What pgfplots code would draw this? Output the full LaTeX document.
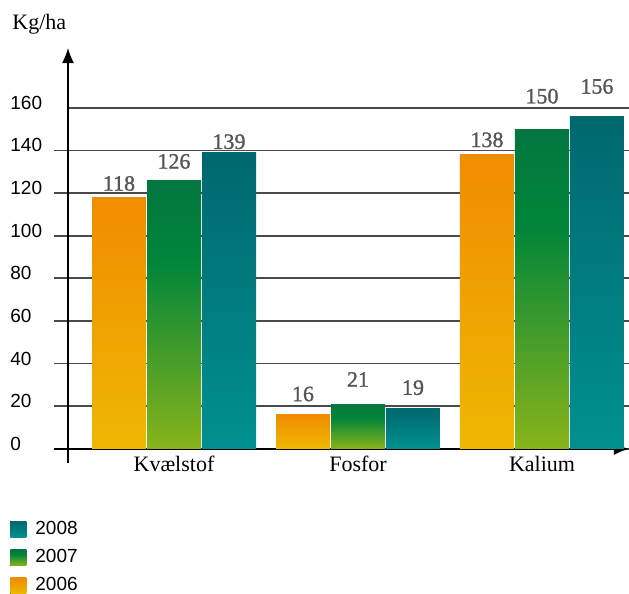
\documentclass[border=0pt]{standalone}
\usepackage{pgfplots}
\pgfplotsset{compat=1.18}
\usepackage{fontspec}
\setmainfont{Liberation Serif}
\newfontfamily\sansf{Liberation Sans}
\newfontfamily\valfont{Liberation Serif}[FakeBold=1.2]
\usetikzlibrary{arrows.meta}
\definecolor{or1}{HTML}{F08C00}
\definecolor{or2}{HTML}{EEB803}
\definecolor{gr1}{HTML}{03763F}
\definecolor{gr2}{HTML}{00853A}
\definecolor{gr3}{HTML}{88B41A}
\definecolor{te1}{HTML}{00686F}
\definecolor{te2}{HTML}{009090}
\definecolor{valgray}{HTML}{555555}
\definecolor{gridgray}{HTML}{4A4A4A}
\pgfdeclareverticalshading{greenshade}{100bp}{color(0bp)=(gr3); color(25bp)=(gr3); color(60bp)=(gr2); color(75bp)=(gr1); color(100bp)=(gr1)}
\pgfplotsset{
  s2006/.style={ybar, bar width=54, bar shift=0, draw=none, top color=or1, bottom color=or2},
  s2007/.style={ybar, bar width=54, bar shift=0, draw=none, shade, shading=greenshade},
  s2008/.style={ybar, bar width=54, bar shift=0, draw=none, top color=te1, bottom color=te2},
  lift/.style={every node near coord/.append style={yshift=#1}},
}
\begin{document}
\begin{tikzpicture}
\useasboundingbox (0,0) rectangle (314.5pt,-297pt);
\begin{axis}[
  at={(27pt,-231.5pt)}, anchor=south west,
  scale only axis, width=287.5pt, height=207.5pt,
  xmin=-14, xmax=561, ymin=-6.6, ymax=188,
  axis x line=middle, axis y line=middle,
  axis line style={line width=0.75pt, -{Latex[length=7.5pt,width=6pt]}},
  xtick={106,290,474}, xticklabels={Kvælstof,Fosfor,Kalium},
  ytick={0,20,...,160},
  major tick length=0pt,
  hide obscured x ticks=false, hide obscured y ticks=false,
  ymajorgrids, grid style={line width=0.85pt, color=gridgray, shorten <=7pt},
  /pgf/number format/assume math mode=true,
  yticklabel style={font=\sansf\fontsize{9.5}{11}\selectfont, anchor=west, inner sep=0pt, xshift=-29pt, yshift=2.5pt},
  xticklabel style={font=\fontsize{11}{13}\selectfont},
  ylabel={Kg/ha},
  every axis y label/.style={at={(axis cs:-56,196.8)}, anchor=base west, inner sep=0pt, font=\fontsize{11}{13}\selectfont},
  nodes near coords,
  every node near coord/.append style={font=\valfont\fontsize{11}{12}\selectfont, text=valgray, inner sep=3pt},
  legend style={at={(axis cs:-58,-33.7)}, anchor=north west, draw=none, fill=none,
     font=\sansf\fontsize{9.5}{11}\selectfont, inner sep=0pt, row sep=6pt, column sep=4.5pt,
     nodes={inner sep=0pt}},
  legend cell align=left,
  legend image code/.code={\fill[#1] (0pt,-4pt) rectangle (8pt,4pt);},
  reverse legend,
  clip=false,
]
% 2006
\addplot[s2006, lift=0pt] coordinates {(51,118)};
\addlegendentry{2006}
\addplot[s2006, lift=3.5pt, forget plot] coordinates {(235,16)};
\addplot[s2006, lift=0.5pt, forget plot] coordinates {(419,138)};
% 2007
\addplot[s2007, lift=2.5pt] coordinates {(106,126)};
\addlegendentry{2007}
\addplot[s2007, lift=5.5pt, forget plot] coordinates {(290,21)};
\addplot[s2007, lift=9.5pt, forget plot] coordinates {(474,150)};
% 2008
\addplot[s2008, lift=-1.5pt] coordinates {(161,139)};
\addlegendentry{2008}
\addplot[s2008, lift=3.5pt, forget plot] coordinates {(345,19)};
\addplot[s2008, lift=8pt, forget plot] coordinates {(529,156)};
\end{axis}
\end{tikzpicture}
\end{document}
